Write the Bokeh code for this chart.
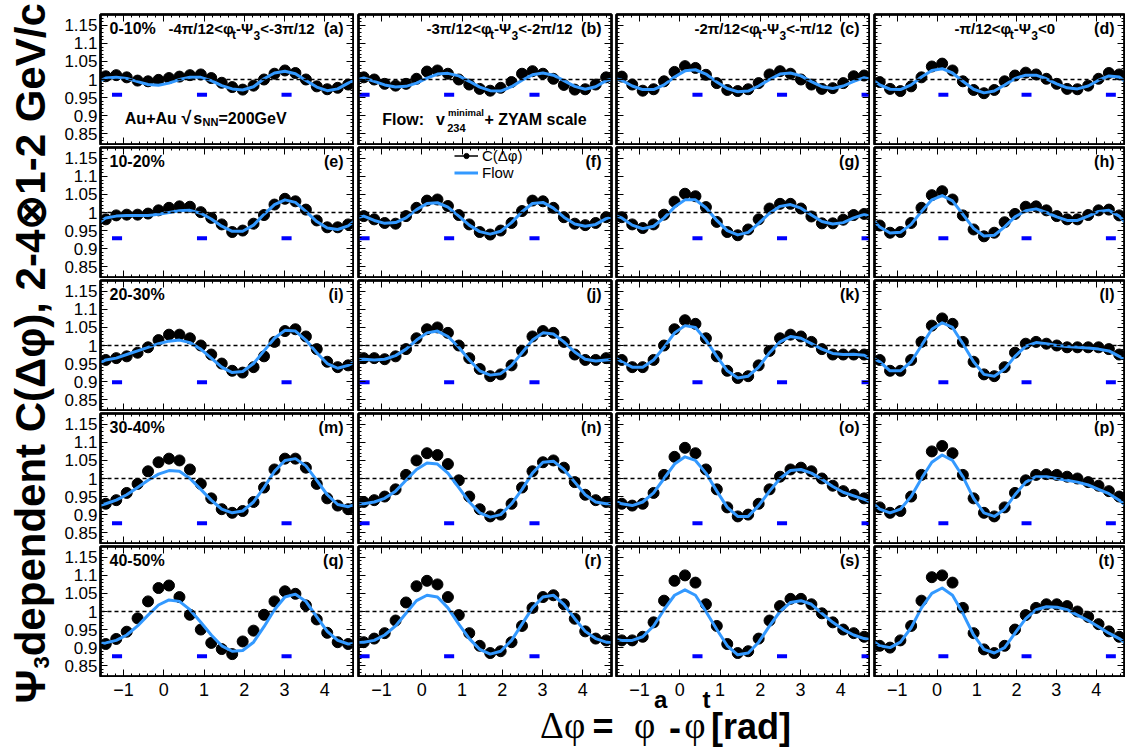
import math
from bokeh.plotting import figure
from bokeh.layouts import row, column
from bokeh.models import (Range1d, LinearAxis, FixedTicker, Label, Span, Legend,
                          LegendItem, CustomJSTickFormatter)
from bokeh.embed import file_html
from bokeh.resources import INLINE

# ---------------------------------------------------------------- data
DPHI = [-1.44, -1.18, -0.92, -0.65, -0.39, -0.13, 0.13, 0.39, 0.65, 0.92, 1.18, 1.44,
        1.70, 1.96, 2.23, 2.49, 2.75, 3.01, 3.27, 3.53, 3.80, 4.06, 4.32, 4.58]

XTICKS = [-1, 0, 1, 2, 3, 4]
XTICK_LABELS = ["\u22121", "0", "1", "2", "3", "4"]
YTICKS = [0.85, 0.9, 0.95, 1.0, 1.05, 1.1, 1.15]
YTICK_LABELS = ["0.85", "0.9", "0.95", "1", "1.05", "1.1", "1.15"]

CENTRALITY = ["0-10%", "10-20%", "20-30%", "30-40%", "40-50%"]
TAGS = ["(a)", "(b)", "(c)", "(d)", "(e)", "(f)", "(g)", "(h)", "(i)", "(j)",
        "(k)", "(l)", "(m)", "(n)", "(o)", "(p)", "(q)", "(r)", "(s)", "(t)"]

# event-plane direction markers (per column) and their height (per row)
EP_MARK_X = [[-1.16, 0.95, 3.05], [-1.42, 0.68, 2.80], [0.44, 2.54, 4.64], [0.16, 2.25, 4.37]]
EP_MARK_Y = [0.958, 0.929, 0.898, 0.876, 0.876]

# 0-10%
C_A = [1.009, 1.012, 1.006, 0.997, 0.995, 0.999, 1.004, 1.008, 1.012, 1.014, 1.004, 0.991,
       0.979, 0.972, 0.983, 1.000, 1.016, 1.025, 1.018, 1.000, 0.981, 0.973, 0.977, 0.986]
F_A = [1.004, 1.006, 1.003, 0.994, 0.986, 0.984, 0.990, 1.000, 1.006, 1.006, 0.997, 0.983,
       0.974, 0.971, 0.980, 1.002, 1.018, 1.023, 1.016, 0.997, 0.979, 0.969, 0.974, 0.990]
C_B = [1.006, 1.000, 0.988, 0.983, 0.988, 1.002, 1.022, 1.025, 1.016, 1.000, 0.986, 0.974,
       0.969, 0.977, 0.993, 1.016, 1.023, 1.016, 1.002, 0.985, 0.972, 0.973, 0.986, 1.006]
F_B = [1.004, 0.995, 0.985, 0.979, 0.981, 0.990, 1.004, 1.015, 1.017, 1.010, 0.995, 0.979,
       0.969, 0.968, 0.980, 0.998, 1.013, 1.018, 1.012, 0.997, 0.981, 0.973, 0.980, 0.997]
C_C = [1.008, 0.986, 0.969, 0.973, 0.995, 1.021, 1.037, 1.032, 1.013, 0.990, 0.971, 0.968,
       0.973, 0.990, 1.014, 1.023, 1.016, 1.000, 0.986, 0.974, 0.976, 0.990, 1.009, 1.011]
F_C = [0.998, 0.982, 0.972, 0.972, 0.985, 1.007, 1.024, 1.027, 1.015, 0.993, 0.975, 0.966,
       0.968, 0.982, 1.000, 1.015, 1.018, 1.010, 0.994, 0.980, 0.975, 0.982, 0.995, 1.005]
C_D = [0.993, 0.974, 0.968, 0.981, 1.006, 1.036, 1.044, 1.025, 0.995, 0.971, 0.962, 0.971,
       0.995, 1.011, 1.019, 1.014, 1.002, 0.988, 0.974, 0.973, 0.983, 1.002, 1.018, 1.014]
F_D = [0.985, 0.973, 0.972, 0.985, 1.007, 1.025, 1.030, 1.018, 0.995, 0.973, 0.963, 0.968,
       0.985, 1.003, 1.012, 1.012, 1.002, 0.988, 0.977, 0.974, 0.982, 0.998, 1.010, 1.007]
# 10-20%
C_E = [0.981, 0.992, 0.994, 0.994, 0.997, 1.006, 1.013, 1.017, 1.016, 1.001, 0.985, 0.967,
       0.946, 0.950, 0.969, 0.993, 1.022, 1.038, 1.031, 1.008, 0.978, 0.959, 0.959, 0.967]
F_E = [0.985, 0.990, 0.992, 0.992, 0.992, 0.995, 1.000, 1.005, 1.006, 0.998, 0.982, 0.962,
       0.948, 0.948, 0.965, 0.995, 1.022, 1.035, 1.028, 1.003, 0.975, 0.957, 0.953, 0.963]
C_F = [0.990, 0.981, 0.971, 0.969, 0.990, 1.013, 1.033, 1.036, 1.018, 0.993, 0.967, 0.946,
       0.939, 0.950, 0.971, 1.004, 1.033, 1.031, 1.013, 0.987, 0.969, 0.965, 0.971, 0.987]
F_F = [0.990, 0.978, 0.970, 0.972, 0.985, 1.008, 1.025, 1.027, 1.015, 0.990, 0.965, 0.947,
       0.940, 0.948, 0.972, 1.002, 1.025, 1.028, 1.012, 0.987, 0.968, 0.962, 0.967, 0.983]
C_G = [0.987, 0.967, 0.957, 0.967, 0.994, 1.030, 1.052, 1.045, 1.015, 0.974, 0.946, 0.937,
       0.953, 0.981, 1.011, 1.024, 1.024, 1.011, 0.989, 0.970, 0.970, 0.980, 0.993, 0.996]
F_G = [0.985, 0.965, 0.955, 0.962, 0.985, 1.015, 1.035, 1.035, 1.013, 0.978, 0.950, 0.938,
       0.945, 0.970, 0.998, 1.017, 1.022, 1.012, 0.993, 0.975, 0.968, 0.972, 0.985, 0.995]
C_H = [0.964, 0.944, 0.946, 0.971, 1.013, 1.048, 1.059, 1.036, 0.992, 0.953, 0.934, 0.944,
       0.973, 0.996, 1.016, 1.017, 1.006, 0.990, 0.981, 0.981, 0.993, 1.006, 1.008, 0.992]
F_H = [0.960, 0.943, 0.945, 0.967, 1.003, 1.035, 1.047, 1.032, 0.995, 0.956, 0.935, 0.937,
       0.960, 0.988, 1.005, 1.010, 1.000, 0.988, 0.978, 0.978, 0.990, 1.003, 1.006, 0.990]
# 20-30%
C_I = [0.960, 0.965, 0.970, 0.980, 0.995, 1.015, 1.030, 1.030, 1.020, 1.000, 0.975, 0.950,
       0.930, 0.925, 0.940, 0.970, 1.010, 1.040, 1.045, 1.025, 0.990, 0.955, 0.940, 0.945]
F_I = [0.960, 0.965, 0.975, 0.985, 0.995, 1.005, 1.012, 1.015, 1.008, 0.990, 0.965, 0.940,
       0.925, 0.928, 0.950, 0.985, 1.020, 1.042, 1.040, 1.015, 0.980, 0.950, 0.937, 0.945]
C_J = [0.965, 0.965, 0.962, 0.970, 0.990, 1.020, 1.045, 1.050, 1.035, 1.000, 0.965, 0.935,
       0.915, 0.920, 0.945, 0.985, 1.025, 1.040, 1.035, 1.010, 0.975, 0.960, 0.960, 0.965]
F_J = [0.962, 0.960, 0.962, 0.972, 0.990, 1.015, 1.035, 1.040, 1.025, 0.995, 0.960, 0.930,
       0.918, 0.922, 0.945, 0.980, 1.015, 1.035, 1.032, 1.010, 0.982, 0.962, 0.957, 0.960]
C_K = [0.960, 0.940, 0.940, 0.960, 1.000, 1.045, 1.070, 1.060, 1.020, 0.970, 0.930, 0.910,
       0.915, 0.945, 0.985, 1.020, 1.030, 1.025, 1.010, 0.990, 0.975, 0.975, 0.975, 0.975]
F_K = [0.955, 0.940, 0.940, 0.960, 0.995, 1.035, 1.055, 1.050, 1.015, 0.970, 0.930, 0.910,
       0.915, 0.940, 0.980, 1.010, 1.025, 1.020, 1.005, 0.990, 0.978, 0.975, 0.976, 0.973]
C_L = [0.960, 0.930, 0.930, 0.960, 1.010, 1.055, 1.075, 1.060, 1.010, 0.955, 0.920, 0.915,
       0.940, 0.980, 1.005, 1.010, 1.005, 1.000, 0.995, 0.995, 0.995, 0.995, 0.990, 0.975]
F_L = [0.955, 0.930, 0.930, 0.955, 1.000, 1.045, 1.063, 1.050, 1.005, 0.955, 0.920, 0.915,
       0.935, 0.970, 0.998, 1.008, 1.005, 1.000, 0.997, 0.995, 0.993, 0.990, 0.985, 0.970]
# 30-40%
C_M = [0.930, 0.940, 0.960, 0.985, 1.020, 1.045, 1.055, 1.050, 1.025, 0.985, 0.945, 0.915,
       0.905, 0.910, 0.935, 0.975, 1.025, 1.055, 1.055, 1.030, 0.985, 0.945, 0.925, 0.915]
F_M = [0.930, 0.940, 0.955, 0.975, 0.995, 1.012, 1.022, 1.020, 1.000, 0.970, 0.940, 0.915,
       0.905, 0.910, 0.935, 0.975, 1.020, 1.050, 1.055, 1.035, 0.995, 0.955, 0.928, 0.922]
C_N = [0.935, 0.940, 0.950, 0.970, 1.010, 1.050, 1.070, 1.065, 1.040, 0.995, 0.950, 0.915,
       0.895, 0.900, 0.930, 0.975, 1.020, 1.045, 1.050, 1.030, 0.990, 0.955, 0.940, 0.935]
F_N = [0.930, 0.935, 0.945, 0.965, 0.995, 1.025, 1.043, 1.040, 1.015, 0.975, 0.935, 0.905,
       0.893, 0.900, 0.930, 0.970, 1.015, 1.045, 1.048, 1.025, 0.990, 0.955, 0.935, 0.930]
C_O = [0.930, 0.925, 0.930, 0.960, 1.010, 1.060, 1.085, 1.070, 1.025, 0.970, 0.920, 0.895,
       0.900, 0.930, 0.970, 1.005, 1.025, 1.030, 1.020, 1.000, 0.980, 0.965, 0.955, 0.945]
F_O = [0.930, 0.925, 0.935, 0.960, 1.000, 1.040, 1.060, 1.050, 1.015, 0.965, 0.920, 0.895,
       0.895, 0.925, 0.965, 1.000, 1.022, 1.025, 1.015, 0.998, 0.978, 0.962, 0.952, 0.942]
C_P = [0.920, 0.905, 0.910, 0.950, 1.010, 1.075, 1.090, 1.070, 1.010, 0.945, 0.905, 0.895,
       0.920, 0.960, 0.995, 1.010, 1.012, 1.010, 1.005, 1.000, 0.990, 0.980, 0.965, 0.950]
F_P = [0.915, 0.905, 0.915, 0.950, 1.000, 1.045, 1.065, 1.050, 1.005, 0.945, 0.905, 0.895,
       0.915, 0.955, 0.990, 1.005, 1.005, 1.000, 0.995, 0.990, 0.982, 0.970, 0.958, 0.940]
# 40-50%
C_Q = [0.910, 0.924, 0.944, 0.981, 1.028, 1.065, 1.072, 1.040, 0.991, 0.950, 0.913, 0.896,
       0.882, 0.917, 0.947, 0.991, 1.028, 1.056, 1.049, 1.017, 0.978, 0.941, 0.915, 0.910]
F_Q = [0.913, 0.920, 0.935, 0.960, 0.990, 1.018, 1.032, 1.028, 1.005, 0.970, 0.935, 0.905,
       0.890, 0.892, 0.915, 0.958, 1.005, 1.040, 1.048, 1.028, 0.985, 0.945, 0.920, 0.910]
C_R = [0.915, 0.925, 0.940, 0.975, 1.025, 1.070, 1.085, 1.075, 1.040, 0.990, 0.940, 0.905,
       0.885, 0.890, 0.915, 0.960, 1.010, 1.040, 1.045, 1.020, 0.980, 0.945, 0.925, 0.920]
F_R = [0.915, 0.920, 0.935, 0.960, 0.995, 1.030, 1.045, 1.040, 1.010, 0.965, 0.925, 0.895,
       0.882, 0.890, 0.920, 0.965, 1.010, 1.040, 1.045, 1.020, 0.980, 0.945, 0.925, 0.915]
C_S = [0.920, 0.920, 0.930, 0.970, 1.030, 1.085, 1.100, 1.080, 1.020, 0.960, 0.910, 0.885,
       0.890, 0.925, 0.975, 1.015, 1.035, 1.035, 1.020, 0.995, 0.970, 0.950, 0.940, 0.930]
F_S = [0.920, 0.920, 0.930, 0.960, 1.005, 1.045, 1.060, 1.045, 1.000, 0.950, 0.905, 0.880,
       0.885, 0.915, 0.960, 1.000, 1.025, 1.030, 1.020, 0.995, 0.970, 0.950, 0.935, 0.925]
C_T = [0.905, 0.900, 0.920, 0.960, 1.030, 1.095, 1.100, 1.080, 1.010, 0.940, 0.895, 0.885,
       0.905, 0.950, 0.990, 1.010, 1.020, 1.020, 1.015, 1.000, 0.985, 0.965, 0.945, 0.930]
F_T = [0.905, 0.900, 0.915, 0.955, 1.010, 1.050, 1.065, 1.045, 0.995, 0.935, 0.895, 0.885,
       0.900, 0.940, 0.980, 1.005, 1.013, 1.012, 1.005, 0.990, 0.975, 0.958, 0.940, 0.925]

CORR = [[C_A, C_B, C_C, C_D], [C_E, C_F, C_G, C_H], [C_I, C_J, C_K, C_L],
        [C_M, C_N, C_O, C_P], [C_Q, C_R, C_S, C_T]]
FLOW = [[F_A, F_B, F_C, F_D], [F_E, F_F, F_G, F_H], [F_I, F_J, F_K, F_L],
        [F_M, F_N, F_O, F_P], [F_Q, F_R, F_S, F_T]]

# ---------------------------------------------------------------- style
SANS = "Liberation Sans"
SERIF = "Liberation Serif"
FLOW_COLOR = "#3399ff"
MARK_COLOR = "#0000ff"

X0, X1 = -1.5708, 4.7124
Y0, Y1 = 0.82, 1.18
FRAME_W = [253, 253, 253, 250]
FRAME_H = 130
BORDER_L = [44, 4, 1, 4]
BORDER_R = [1, 4, 1, 1]
BORDER_T = [14, 2, 2, 2, 2]
BORDER_B = [1, 1, 1, 1, 1]
YTITLE_W = 56
TOTAL_H = 751
# screen x of each column's frame left edge, and top of the strip under the grid
FRAME_LEFT = [100, 358, 616, 874]
STRIP_TOP = 677
STRIP_H = TOTAL_H - STRIP_TOP

X_MINOR = [round(-1.4 + 0.2 * i, 2) for i in range(31)]
Y_MINOR = [round(0.82 + 0.01 * i, 2) for i in range(37)]

Y_FMT = CustomJSTickFormatter(args=dict(tv=YTICKS, tl=YTICK_LABELS), code="""
    const i = tv.findIndex(t => Math.abs(t - tick) < 1e-6);
    return i >= 0 ? tl[i] : '';""")
BLANK_FMT = CustomJSTickFormatter(code="return '';")

# approximate advance widths (em) of the bold sans face, used to chain text pieces
ADV = {" ": .278, "%": .889, "(": .333, ")": .333, "+": .584, ",": .278, "-": .333,
       ".": .278, "/": .278, ":": .333, "<": .584, "=": .584, "A": .722, "F": .611,
       "G": .778, "M": .833, "N": .722, "V": .667, "Y": .667, "Z": .611, "a": .556,
       "c": .556, "e": .556, "i": .278, "l": .278, "m": .889, "o": .611, "s": .556,
       "t": .333, "v": .556, "w": .778, "\u03c0": .617, "\u03c6": .76, "\u03a8": .833,
       "\u221a": .56}


def adv(text, size):
    return size * sum(ADV.get(ch, .556) for ch in text)


# event-plane window labels: first x (px from frame left) and pieces (text, size, sub?)
EP_START = [68, 68, 78, 80]
EP_PIECES = [
    [("-4\u03c0/12<\u03c6", 15, 0), ("t", 12, 1), ("-\u03a8", 15, 0), ("3", 12, 1),
     ("<-3\u03c0/12", 15, 0)],
    [("-3\u03c0/12<\u03c6", 15, 0), ("t", 12, 1), ("-\u03a8", 15, 0), ("3", 12, 1),
     ("<-2\u03c0/12", 15, 0)],
    [("-2\u03c0/12<\u03c6", 15, 0), ("t", 12, 1), ("-\u03a8", 15, 0), ("3", 12, 1),
     ("<-\u03c0/12", 15, 0)],
    [("-\u03c0/12<\u03c6", 15, 0), ("t", 12, 1), ("-\u03a8", 15, 0), ("3", 12, 1),
     ("<0", 15, 0)],
]


def style_axis(ax, ticks, minor, fmt, show, standoff):
    ax.ticker = FixedTicker(ticks=ticks, minor_ticks=minor)
    ax.major_tick_in = 7
    ax.major_tick_out = 0
    ax.minor_tick_in = 3
    ax.minor_tick_out = 0
    ax.axis_line_color = "black"
    ax.axis_line_width = 2
    ax.major_tick_line_color = "black"
    ax.minor_tick_line_color = "black"
    ax.major_tick_line_width = 1
    ax.minor_tick_line_width = 1
    ax.axis_label = None
    if show:
        ax.formatter = fmt
        ax.major_label_text_font = SANS
        ax.major_label_text_font_size = "17px"
        ax.major_label_text_color = "black"
        ax.major_label_standoff = standoff
    else:
        ax.formatter = BLANK_FMT
        ax.major_label_text_font_size = "0px"
        ax.major_label_standoff = 0


def label(fig, x, y, text, size, bold=True, align="left", font=SANS, angle=0.0):
    fig.add_layout(Label(x=x, y=y, text=text, text_font=font, angle=angle,
                         text_font_size=f"{size}px",
                         text_font_style="bold" if bold else "normal",
                         text_align=align, text_baseline="alphabetic",
                         text_color="black"))


def add_text(p, fw, text, px, py, size, bold=True, align="left", font=SANS):
    """Text whose left edge is px from the frame's left and whose middle line is
    py below the frame's top."""
    label(p, X0 + px * (X1 - X0) / fw, Y1 - py * (Y1 - Y0) / FRAME_H, text, size,
          bold=bold, align=align, font=font)


def chain(p, fw, x, pieces):
    """Lay text pieces out one after another starting at x."""
    for txt, size, py in pieces:
        add_text(p, fw, txt, x, py, size)
        x += adv(txt, size)


def make_panel(r, c):
    fw = FRAME_W[c]
    p = figure(frame_width=fw, frame_height=FRAME_H,
               x_range=Range1d(X0, X1), y_range=Range1d(Y0, Y1),
               toolbar_location=None, output_backend="svg",
               min_border_left=BORDER_L[c], min_border_right=BORDER_R[c],
               min_border_top=BORDER_T[r], min_border_bottom=BORDER_B[r],
               background_fill_color="white", border_fill_color="white")
    p.grid.visible = False
    p.outline_line_color = "black"
    p.outline_line_width = 2.5

    style_axis(p.xaxis[0], XTICKS, X_MINOR, None, False, 0)
    style_axis(p.yaxis[0], YTICKS, Y_MINOR, Y_FMT, c == 0, 3)
    top = LinearAxis()
    style_axis(top, XTICKS, X_MINOR, None, False, 0)
    p.add_layout(top, "above")
    right = LinearAxis()
    style_axis(right, YTICKS, Y_MINOR, None, False, 0)
    p.add_layout(right, "right")

    p.add_layout(Span(location=1.0, dimension="width", line_color="black",
                      line_width=1.3, line_dash="4 3"))

    # event-plane direction markers
    p.rect(x=EP_MARK_X[c], y=[EP_MARK_Y[r]] * len(EP_MARK_X[c]), width=0.25,
           height=4, height_units="screen", fill_color=MARK_COLOR,
           line_color=None)

    corr = CORR[r][c]
    flow = FLOW[r][c]
    pts = p.scatter(x=DPHI, y=corr, size=11, marker="circle",
                    fill_color="black", line_color="black")
    # the flow curve is periodic in 2pi: repeat the end values across the edges
    fx = [DPHI[-1] - 2 * math.pi] + DPHI + [DPHI[0] + 2 * math.pi]
    fy = [flow[-1]] + flow + [flow[0]]
    fl = p.line(x=fx, y=fy, line_color=FLOW_COLOR, line_width=3, line_join="round")

    # texts (middle lines measured from the frame top)
    add_text(p, fw, TAGS[r * 4 + c], fw - 10, 14, 16, align="right")
    if c == 0:
        add_text(p, fw, CENTRALITY[r], 9, 14, 16)
    if r == 0:
        chain(p, fw, EP_START[c],
              [(t, s, 20.5 if sub else 14) for t, s, sub in EP_PIECES[c]])
    if r == 0 and c == 0:
        add_text(p, fw, "Au+Au", 24.3, 103.5, 16)
        add_text(p, fw, "\u221a", 81, 103.5, 18)
        add_text(p, fw, "s", 92.7, 103.5, 16)
        add_text(p, fw, "NN", 102, 107.7, 11)
        add_text(p, fw, "=200GeV", 118, 103.5, 16)
    if r == 0 and c == 1:
        add_text(p, fw, "Flow:", 23.7, 104.5, 16)
        add_text(p, fw, "v", 77.5, 104.5, 16)
        add_text(p, fw, "minimal", 89.5, 97.7, 9.5)
        add_text(p, fw, "234", 88.7, 113.4, 11)
        add_text(p, fw, "+ ZYAM scale", 126, 104.5, 16)
    if r == 1 and c == 1:
        proxy = p.line(x=[float("nan")], y=[float("nan")], line_color="black",
                       line_width=1.5)
        legend = Legend(items=[LegendItem(label="C(\u0394\u03c6)", renderers=[proxy, pts]),
                               LegendItem(label="Flow", renderers=[fl])],
                        location=(96, 130 - 8 - 26), border_line_color=None,
                        background_fill_alpha=0, padding=0, margin=0, spacing=0,
                        label_height=13, glyph_height=13, glyph_width=24,
                        label_standoff=4, label_text_font=SANS,
                        label_text_font_size="15px", label_text_color="black")
        p.add_layout(legend)
    return p


def make_strip(c):
    """Strip under a column: its x scale continues the panel's, and it carries
    the Delta-phi tick labels and (for the middle columns) the axis title."""
    k = (X1 - X0) / FRAME_W[c]
    width = BORDER_L[c] + FRAME_W[c] + BORDER_R[c]
    s = figure(frame_width=width, frame_height=STRIP_H,
               x_range=Range1d(X0 - BORDER_L[c] * k, X1 + BORDER_R[c] * k),
               y_range=Range1d(0, STRIP_H), toolbar_location=None,
               output_backend="svg", x_axis_location=None, y_axis_location=None,
               min_border=0, background_fill_color="white", border_fill_color="white")
    s.grid.visible = False
    s.outline_line_color = None
    for tick, txt in zip(XTICKS, XTICK_LABELS):
        label(s, tick, STRIP_H - (689 - STRIP_TOP), txt, 18, bold=False, align="center")

    def put(txt, sx, sy, size, font, bold):
        label(s, X0 + (sx - FRAME_LEFT[c]) * k, STRIP_H - (sy - STRIP_TOP), txt, size,
              bold=bold, font=font)

    if c == 1:
        put("\u0394\u03c6", 539.6, 725, 37, SERIF, False)
        put("=", 592, 726, 36, SANS, True)
    if c == 2:
        put("\u03c6", 633.5, 725, 37, SERIF, False)
        put("a", 653.6, 699, 24, SANS, True)
        put("-", 668.6, 726, 36, SANS, True)
        put("\u03c6", 683.7, 725, 37, SERIF, False)
        put("t", 702, 699, 24, SANS, True)
        put("[rad]", 710.5, 726, 36, SANS, True)
    return s


rows = [row([make_panel(r, c) for c in range(4)]) for r in range(5)]
strip = row([make_strip(c) for c in range(4)])

# ---------------------------------------------------------------- y-axis title
ytitle = figure(width=YTITLE_W, height=TOTAL_H, x_range=Range1d(0, YTITLE_W),
                y_range=Range1d(0, TOTAL_H), toolbar_location=None, output_backend="svg",
                x_axis_location=None, y_axis_location=None, min_border=0,
                background_fill_color="white", border_fill_color="white")
ytitle.grid.visible = False
ytitle.outline_line_color = None
y = TOTAL_H - 703
for txt, bx, size in [("\u03a8", 29.7, 42), ("3", 40.5, 22),
                      (" dependent C(\u0394\u03c6), 2-4\u22971-2 GeV/c", 29.7, 42)]:
    label(ytitle, bx, y, txt, size, angle=math.pi / 2)
    y += adv(txt, size)

layout = row([ytitle, column(rows + [strip])])
open("out.html", "w").write(file_html(layout, INLINE))
